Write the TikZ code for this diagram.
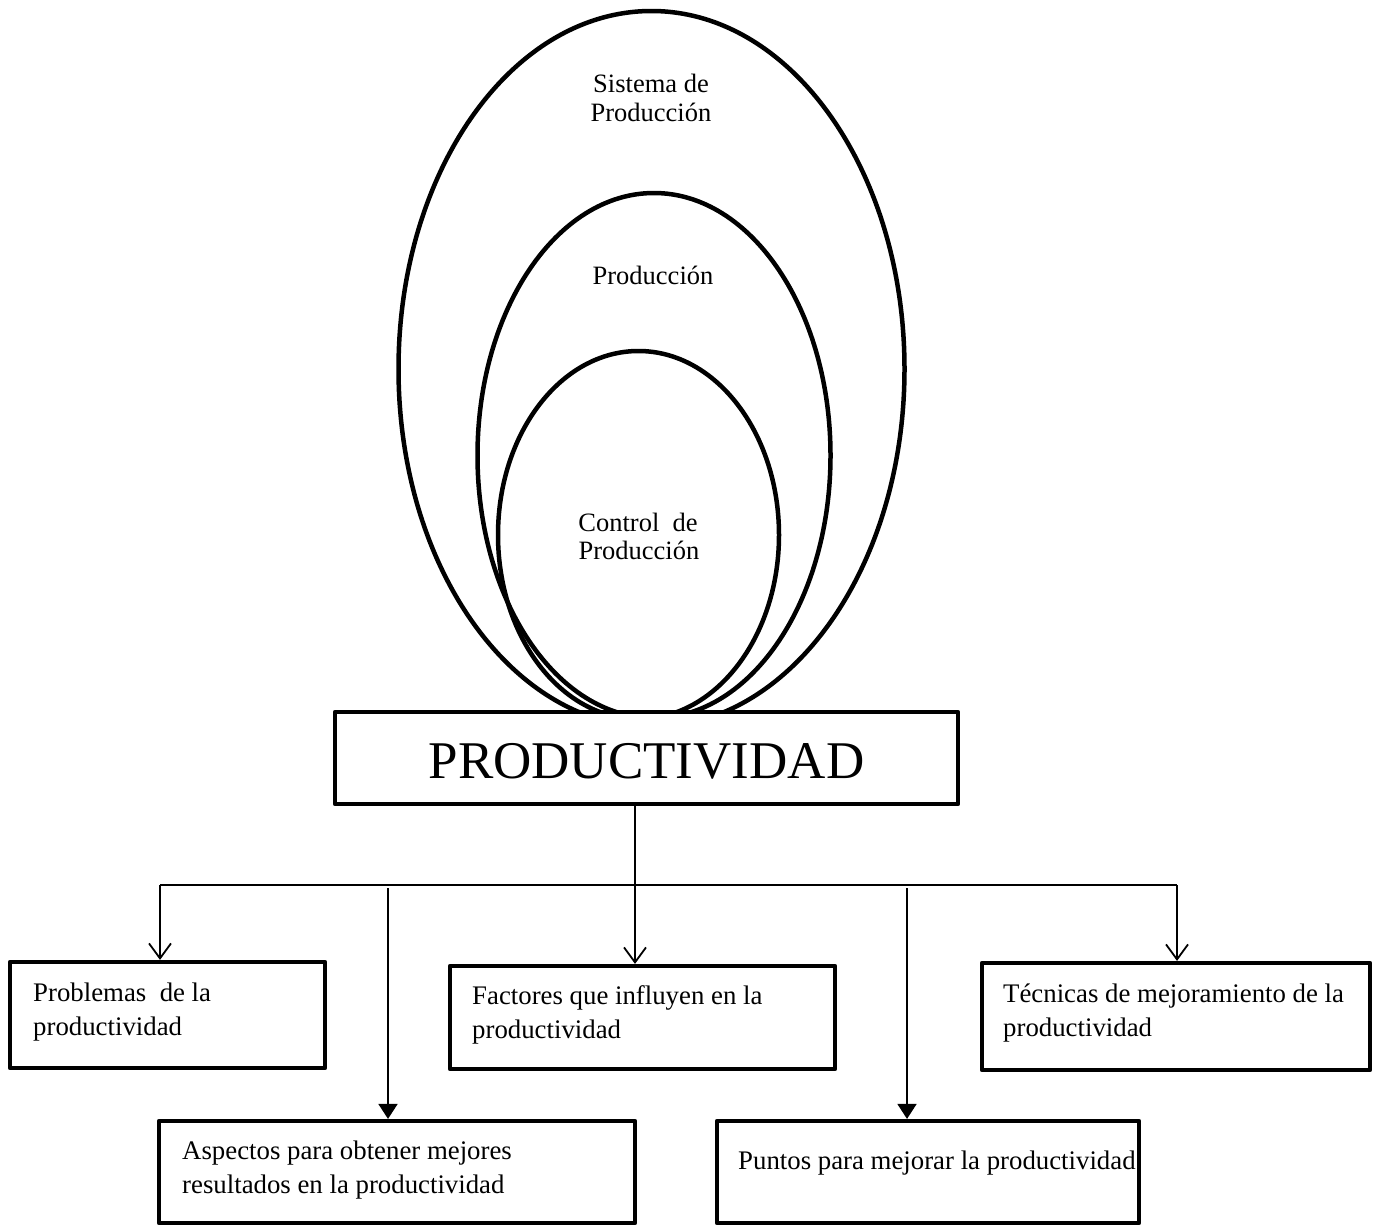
\documentclass[tikz,border=0pt]{standalone}
\usepackage{fontspec}
\setmainfont{Liberation Serif}
\usetikzlibrary{arrows.meta}
\begin{document}
\begin{tikzpicture}[x=1pt,y=-1pt,
  ring/.style={line width=4.5pt},
  box/.style={draw, rectangle, line width=4.2pt, line join=round, fill=white, inner sep=0pt},
  txt/.style={font=\fontsize{26.8}{30}\selectfont, inner sep=0pt, anchor=base west},
  ctxt/.style={font=\fontsize{26.5}{30}\selectfont, inner sep=0pt, anchor=base},
  bus/.style={line width=1.6pt},
  openhead/.style={line width=1.8pt, -{Straight Barb[length=15pt,width=22pt,line width=1.8pt]}},
  solidhead/.style={line width=1.8pt, -{Triangle[length=15pt,width=19pt]}}
]
\fill[white] (0,0) rectangle (1375,1226);
\useasboundingbox (0,0) rectangle (1375,1226);

% nested ellipses resting on the central box
\draw[ring] (651.5,369) ellipse [x radius=253, y radius=358];
\draw[ring] (654,455.5) ellipse [x radius=176.5, y radius=262.5];
\draw[ring] (638.5,535) ellipse [x radius=140.5, y radius=184];

\node[ctxt] (sis1) at (651,92) {Sistema de};
\node[ctxt] (sis2) at (651,121) {Producción};
\node[ctxt] (prodn) at (653,284) {Producción};
\node[ctxt] (ctl1) at (638,531) {Control\ \ de};
\node[ctxt] (ctl2) at (639,559) {Producción};

% central box
\node[box, minimum width=623pt, minimum height=92pt] (prod) at (646.5,758) {};
\node[font=\fontsize{53}{60}\selectfont, inner sep=0pt, anchor=base] (prodT) at (646.5,778) {PRODUCTIVIDAD};

% boxes below
\node[box, minimum width=315pt, minimum height=106pt] (prob) at (167.5,1015) {};
\node[box, minimum width=385pt, minimum height=103pt] (fact) at (642.5,1017.5) {};
\node[box, minimum width=388pt, minimum height=107pt] (tec) at (1176,1016.5) {};
\node[box, minimum width=476pt, minimum height=102pt] (asp) at (397,1172) {};
\node[box, minimum width=422pt, minimum height=102pt] (punt) at (928,1172) {};

\node[txt] (prob1) at (33,1001) {Problemas\ \ de la};
\node[txt] (prob2) at (33,1035) {productividad};
\node[txt] (fact1) at (472,1004) {Factores que influyen en la};
\node[txt] (fact2) at (472,1038) {productividad};
\node[txt] (tec1) at (1003,1002) {Técnicas de mejoramiento de la};
\node[txt] (tec2) at (1003,1036) {productividad};
\node[txt] (asp1) at (182,1159) {Aspectos para obtener mejores};
\node[txt] (asp2) at (182,1193) {resultados en la productividad};
\node[txt] (punt1) at (738,1169) {Puntos para mejorar la productividad};

% connectors
\coordinate (hub) at (635,885);
\coordinate (bl) at (160,885);
\coordinate (br) at (1177,885);
\coordinate (a1) at (388,888);
\coordinate (a2) at (907,888);

\draw[bus] (prod.south -| hub) -- (hub);
\draw[bus] (bl) -- (br);
\draw[openhead] (bl) -- (bl |- prob.north);
\draw[openhead] (hub) -- (hub |- fact.north);
\draw[openhead] (br) -- (br |- tec.north);
\draw[solidhead] (a1) -- (a1 |- asp.north);
\draw[solidhead] (a2) -- (a2 |- punt.north);
\end{tikzpicture}
\end{document}
